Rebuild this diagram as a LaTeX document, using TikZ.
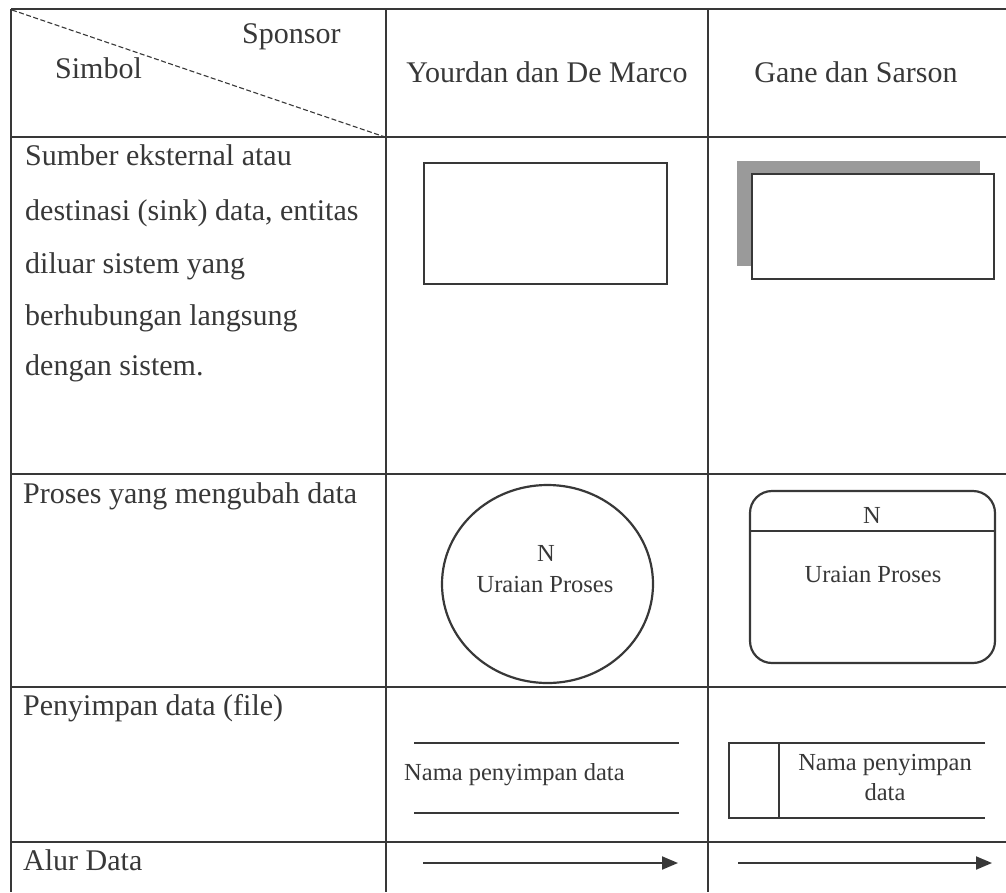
\documentclass[tikz,border=0pt]{standalone}
\usepackage{fontspec}
\setmainfont{Liberation Serif}
\usetikzlibrary{shapes.geometric,arrows.meta}
\definecolor{ink}{HTML}{383838}
\definecolor{shadowgray}{HTML}{9A9A9A}
\begin{document}
\begin{tikzpicture}[x=1pt,y=-1pt,
  gridline/.style={draw=ink, line width=1.8pt},
  shapeline/.style={draw=ink, line width=2.2pt},
  bigtext/.style={font=\fontsize{30}{36}\selectfont, text=ink, inner sep=0pt},
  smalltext/.style={font=\fontsize{24.5}{30}\selectfont, text=ink, inner sep=0pt},
  flow/.style={draw=ink, line width=2pt, -{Triangle[length=16pt,width=13pt]}}]
\useasboundingbox (0,0) rectangle (1006,892);
\fill[white] (0,0) rectangle (1006,892);

% table grid
\coordinate (tl) at (11,9);
\coordinate (tr) at (1006,9);
\draw[gridline] (tl) -- (tr);
\draw[gridline] (11,9) -- (11,892);
\draw[gridline] (386,9) -- (386,892);
\draw[gridline] (708,9) -- (708,892);
\draw[gridline] (11,137) -- (1006,137);
\draw[gridline] (11,474) -- (1006,474);
\draw[gridline] (11,687) -- (1006,687);
\draw[gridline] (11,842) -- (1006,842);

% header diagonal
\coordinate (dA) at (12,10);
\coordinate (dB) at (385,137);
\draw[ink, line width=1.1pt, dash pattern=on 5pt off 2.5pt] (dA) -- (dB);
\node[bigtext, anchor=base west] (sponsor) at (242,43) {Sponsor};
\node[bigtext, anchor=base west] (simbol) at (55,78) {Simbol};
\node[bigtext, anchor=base] (yourdan) at (547,82) {Yourdan dan De Marco};
\node[bigtext, anchor=base] (gane) at (856,82) {Gane dan Sarson};

% row 1 text
\node[bigtext, anchor=base west] (s1) at (25,165) {Sumber eksternal atau};
\node[bigtext, anchor=base west] (s2) at (25,220) {destinasi (sink) data, entitas};
\node[bigtext, anchor=base west] (s3) at (25,273) {diluar sistem yang};
\node[bigtext, anchor=base west] (s4) at (25,325) {berhubungan langsung};
\node[bigtext, anchor=base west] (s5) at (25,375) {dengan sistem.};

% row 1 shapes
\node[shapeline, rectangle, inner sep=0pt, minimum width=243pt, minimum height=121pt] (ydent) at (545.5,223.5) {};
\fill[shadowgray] (737,161) rectangle (980,266);
\node[shapeline, rectangle, fill=white, inner sep=0pt, minimum width=242pt, minimum height=105pt] (gsent) at (873,226.5) {};

% row 2
\node[bigtext, anchor=base west] (proses) at (23,503) {Proses yang mengubah data};
\node[shapeline, ellipse, inner sep=0pt, minimum width=211pt, minimum height=198pt] (ydproc) at (547.5,584) {};
\node[smalltext, anchor=base] (ydn) at (546,561) {N};
\node[smalltext, anchor=base] (ydu) at (545,592) {Uraian Proses};
\draw[shapeline, rounded corners=22pt] (750,491) rectangle (995,663);
\coordinate (gdl) at (750,531);
\coordinate (gdr) at (995,531);
\draw[shapeline, line width=1.8pt] (gdl) -- (gdr);
\node[smalltext, anchor=base] (gsn) at (872,523) {N};
\node[smalltext, anchor=base] (gsu) at (873,582) {Uraian Proses};

% row 3
\node[bigtext, anchor=base west] (penyimpan) at (23,715) {Penyimpan data (file)};
\coordinate (ys1) at (414,743);
\coordinate (ys2) at (679,743);
\coordinate (ys3) at (414,813);
\coordinate (ys4) at (679,813);
\draw[ink, line width=1.6pt] (ys1) -- (ys2);
\draw[ink, line width=1.6pt] (ys3) -- (ys4);
\node[smalltext, anchor=base west] (ydstore) at (404,780) {Nama penyimpan data};
\coordinate (gs1) at (985,743);
\coordinate (gs2) at (729,743);
\coordinate (gs3) at (729,818);
\coordinate (gs4) at (985,818);
\draw[ink, line width=1.6pt] (gs1) -- (gs2) -- (gs3) -- (gs4);
\coordinate (gd1) at (779,743);
\coordinate (gd2) at (779,818);
\draw[ink, line width=1.6pt] (gd1) -- (gd2);
\node[smalltext, anchor=base] (gsstore1) at (885,770) {Nama penyimpan};
\node[smalltext, anchor=base] (gsstore2) at (885,800) {data};

% row 4
\node[bigtext, anchor=base west] (alur) at (23,870) {Alur Data};
\coordinate (ya) at (423,863);
\coordinate (yb) at (678,863);
\draw[flow] (ya) -- (yb);
\coordinate (ga) at (738,863);
\coordinate (gb) at (992,863);
\draw[flow] (ga) -- (gb);
\end{tikzpicture}
\end{document}
